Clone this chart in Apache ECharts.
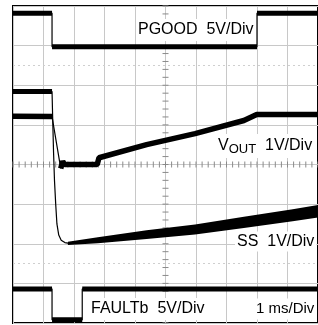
<!DOCTYPE html>
<html>
<head>
<meta charset="utf-8">
<script src="https://cdn.jsdelivr.net/npm/echarts@6/dist/echarts.min.js"></script>
<style>
html, body { margin: 0; padding: 0; background: #fff; }
#main { width: 318px; height: 325px; }
</style>
</head>
<body>
<div id="main"></div>
<script>
// scope screen: x in ms (1 ms/div, 10 div), y in divisions (8 div)
var pgoodX = [0, 1.28, 1.28, 8.0, 8.0, 10];
var pgoodY = [7.82, 7.82, 6.97, 6.97, 7.82, 7.82];

var faultX = [0, 1.28, 1.28, 2.27, 2.27, 10];
var faultY = [0.86, 0.86, 0.08, 0.08, 0.86, 0.86];

var voutX = [0, 1.28, 1.565, 1.63, 1.69, 2.76, 2.82, 4.38, 5.97, 7.57, 7.99, 10];
var voutY = [5.22, 5.21, 3.90, 4.08, 4.00, 4.00, 4.17, 4.50, 4.78, 5.11, 5.26, 5.26];

// soft-start: flat, fast discharge, then slow noisy ramp
var ssX = [0, 1.28, 1.30, 1.33, 1.36, 1.40, 1.44, 1.50, 1.58, 1.70, 1.85];
var ssY = [5.84, 5.84, 5.2, 4.3, 3.6, 3.0, 2.5, 2.22, 2.09, 2.03, 2.01];
var rampX = [1.80, 2.78, 4.38, 5.97, 7.57, 9.17, 10.0];
var rampMid = [2.01, 2.09, 2.23, 2.36, 2.54, 2.72, 2.82];
var rampSpread = [0.08, 0.15, 0.22, 0.25, 0.28, 0.30, 0.31];

var refLevels = [6.5, 1.5];
var centerX = 5, centerY = 4, minorPerDiv = 5;

var FONT = '"Liberation Sans", Arial, sans-serif';

function pairs(xs, ys) {
  return xs.map(function (x, i) { return [x, ys[i]]; });
}

// thick trace, broken at the steep edges (those are drawn thin)
function thickParts(xs, ys) {
  var out = [];
  for (var i = 0; i < xs.length; i++) {
    out.push([xs[i], ys[i]]);
    if (i < xs.length - 1) {
      var dx = xs[i + 1] - xs[i], dy = Math.abs(ys[i + 1] - ys[i]);
      if (dx < 0.3 && dy > 0.5) out.push([xs[i], '-']);
    }
  }
  return out;
}

function trace(data, w) {
  return {
    type: 'line', data: data, showSymbol: false, symbol: 'none',
    connectNulls: false, animation: false, silent: true,
    lineStyle: { color: '#000', width: w }
  };
}

var myChart = echarts.init(document.getElementById('main'));

var refLine = trace([], 1);
refLine.markLine = {
  silent: true, symbol: 'none', animation: false,
  label: { show: false },
  lineStyle: { color: '#cfcfcf', type: [2, 3], width: 1 },
  data: refLevels.map(function (v) { return { yAxis: v }; })
};

// minor ticks on the two centre graticule lines
var tickVals = [];
for (var k = 0; k <= 10 * minorPerDiv; k++) tickVals.push(['x', k / minorPerDiv]);
for (var m = 0; m <= 8 * minorPerDiv; m++) tickVals.push(['y', m / minorPerDiv]);
var centerTicks = {
  type: 'custom', animation: false, silent: true,
  data: tickVals,
  renderItem: function (params, api) {
    var d = tickVals[params.dataIndex];
    var p = d[0] === 'x' ? api.coord([d[1], centerY]) : api.coord([centerX, d[1]]);
    var shape = d[0] === 'x'
      ? { x1: p[0], y1: p[1] - 3, x2: p[0], y2: p[1] + 3 }
      : { x1: p[0] - 3, y1: p[1], x2: p[0] + 3, y2: p[1] };
    return { type: 'line', shape: shape, style: { stroke: '#8a8a8a', lineWidth: 1 } };
  }
};

var rampBand = {
  type: 'custom', animation: false, silent: true,
  data: [[0, 0]],
  renderItem: function (params, api) {
    var pts = [];
    for (var i = 0; i < rampX.length; i++) pts.push(api.coord([rampX[i], rampMid[i] + rampSpread[i] / 2]));
    for (var j = rampX.length - 1; j >= 0; j--) pts.push(api.coord([rampX[j], rampMid[j] - rampSpread[j] / 2]));
    return { type: 'polygon', shape: { points: pts }, style: { fill: '#000' } };
  }
};

var gridColor = '#c8c8c8';

myChart.setOption({
  backgroundColor: '#fff',
  grid: { left: 13, top: 6, width: 313, height: 317, show: true, borderColor: '#000', borderWidth: 2 },
  xAxis: { type: 'value', min: 0, max: 10, interval: 1,
    axisLine: { show: false }, axisTick: { show: false }, axisLabel: { show: false },
    splitLine: { lineStyle: { color: gridColor, width: 1 } } },
  yAxis: { type: 'value', min: 0, max: 8, interval: 1,
    axisLine: { show: false }, axisTick: { show: false }, axisLabel: { show: false },
    splitLine: { lineStyle: { color: gridColor, width: 1 } } },
  series: [
    refLine,
    centerTicks,
    trace(pairs(pgoodX, pgoodY), 1.2),
    trace(thickParts(pgoodX, pgoodY), 5),
    trace(pairs(faultX, faultY), 1.2),
    trace(thickParts(faultX, faultY), 5),
    trace(pairs(voutX, voutY), 1.2),
    trace(thickParts(voutX, voutY), 5.5),
    trace(pairs(ssX, ssY), 1.2),
    trace(pairs(ssX.slice(0, 2), ssY.slice(0, 2)), 5),
    rampBand
  ],
  graphic: [
    { type: 'text', x: 136, y: 30, z: 100,
      style: { text: 'PGOOD  5V/Div', font: '16px ' + FONT, fill: '#000',
        verticalAlign: 'middle', backgroundColor: '#fff', padding: [3, 2] } },
    { type: 'text', x: 216, y: 146, z: 100,
      style: { text: '{a|V}{b|OUT}{a|  1V/Div}', fill: '#000', verticalAlign: 'middle',
        backgroundColor: '#fff', padding: [2, 2],
        rich: {
          a: { font: '16px ' + FONT, fill: '#000', lineHeight: 20 },
          b: { font: '13px ' + FONT, fill: '#000', lineHeight: 14, verticalAlign: 'bottom' }
        } } },
    { type: 'text', x: 235, y: 241.5, z: 100,
      style: { text: 'SS  1V/Div', font: '16px ' + FONT, fill: '#000',
        verticalAlign: 'middle', backgroundColor: '#fff', padding: [2, 2] } },
    { type: 'text', x: 89, y: 309, z: 100,
      style: { text: 'FAULTb  5V/Div', font: '16px ' + FONT, fill: '#000',
        verticalAlign: 'middle', backgroundColor: '#fff', padding: [3, 2] } },
    { type: 'text', x: 254, y: 309, z: 100,
      style: { text: '1 ms/Div', font: '15px ' + FONT, fill: '#000',
        verticalAlign: 'middle', backgroundColor: '#fff', padding: [3, 2] } }
  ]
});
</script>
</body>
</html>
